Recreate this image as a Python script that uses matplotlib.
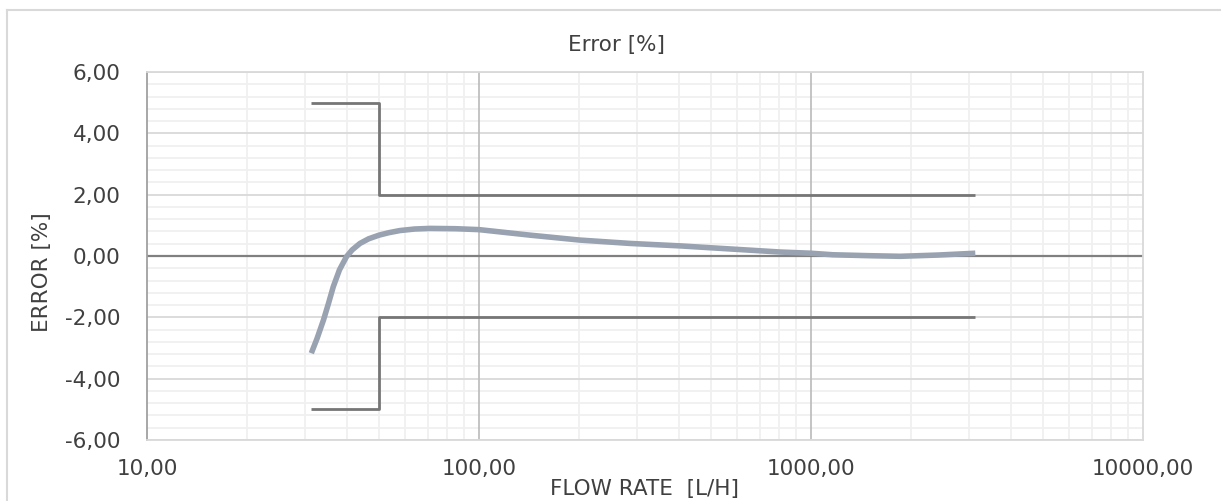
"""
Curva de erro do medidor vs. vazão (escala log), com limites de erro máximo admissível.
"""
import numpy as np
import matplotlib
matplotlib.use("Agg")
import matplotlib.pyplot as plt
from matplotlib.ticker import FixedLocator, FuncFormatter, NullFormatter
from matplotlib.lines import Line2D

flow_lh = [31.25, 32.5, 34.0, 35.2, 36.4, 38.0, 39.9, 41.5, 43.8, 46.5, 50.0,
           53.5, 57.8, 64.0, 71.2, 85.0, 100.0, 142.5, 201.0, 285.0, 403.0,
           570.0, 807.0, 1000.0, 1165.0, 1500.0, 1854.0, 2400.0, 3125.0]
error_pct = [-3.17, -2.70, -2.09, -1.55, -1.00, -0.45, -0.02, 0.20, 0.41, 0.56, 0.68,
             0.76, 0.83, 0.88, 0.90, 0.89, 0.86, 0.68, 0.52, 0.41, 0.33,
             0.23, 0.13, 0.09, 0.04, 0.01, -0.01, 0.03, 0.09]

# Limites de erro (Q1, Q2, Q4)
limit_x = [31.25, 50.0, 50.0, 3125.0]
upper_lim = [5.0, 5.0, 2.0, 2.0]
lower_lim = [-5.0, -5.0, -2.0, -2.0]

x_major = [10, 100, 1000, 10000]
y_major = [-6, -4, -2, 0, 2, 4, 6]

TXT = "#404040"
FS = 15.5

fig = plt.figure(figsize=(12.21, 5.01), dpi=100)
fig.patch.set_facecolor("white")
ax = fig.add_axes([147 / 1221, 1 - 440 / 501, (1143 - 147) / 1221, (440 - 72) / 501])

ax.set_xscale("log")
ax.set_xlim(10, 10000)
ax.set_ylim(-6, 6)

# grade
x_minor = [m * 10 ** d for d in range(1, 4) for m in range(2, 10)]
for xv in x_minor:
    ax.axvline(xv, color="#f0f0f0", lw=1.3, zorder=0)
for yv in np.arange(-6, 6.01, 0.4):
    if round(yv, 1) % 2 != 0:
        ax.axhline(yv, color="#f0f0f0", lw=1.3, zorder=0)
for yv in y_major:
    if yv != 0:
        ax.axhline(yv, color="#d9d9d9", lw=1.3, zorder=1)
for xv in [100, 1000]:
    ax.axvline(xv, color="#bfbfbf", lw=1.3, zorder=1)
ax.axhline(0, color="#808080", lw=1.6, zorder=2)

ax.plot(limit_x, upper_lim, color="#767676", lw=2.0, solid_capstyle="butt", zorder=3)
ax.plot(limit_x, lower_lim, color="#767676", lw=2.0, solid_capstyle="butt", zorder=3)
ax.plot(flow_lh, error_pct, color="#98a2b0", lw=4.0, solid_joinstyle="round",
        solid_capstyle="butt", zorder=4)

for s in ["top", "right", "bottom"]:
    ax.spines[s].set_color("#d9d9d9")
    ax.spines[s].set_linewidth(1.3)
ax.spines["left"].set_color("#a0a0a0")
ax.spines["left"].set_linewidth(1.3)

ax.xaxis.set_major_locator(FixedLocator(x_major))
ax.xaxis.set_minor_formatter(NullFormatter())
ax.xaxis.set_major_formatter(FuncFormatter(lambda v, p: f"{v:.2f}".replace(".", ",")))
ax.yaxis.set_major_locator(FixedLocator(y_major))
ax.yaxis.set_major_formatter(FuncFormatter(lambda v, p: f"{v:.2f}".replace(".", ",")))
ax.tick_params(axis="both", which="both", length=0, labelsize=FS, colors=TXT)
ax.tick_params(axis="x", pad=14)
ax.tick_params(axis="y", pad=19)

fig.text(617 / 1221, 1 - 45 / 501, "Error [%]", ha="center", va="center", fontsize=FS, color=TXT)
fig.text(645 / 1221, 1 - 489 / 501, "FLOW RATE  [L/H]", ha="center", va="center", fontsize=FS, color=TXT)
fig.text(42 / 1221, 1 - 272 / 501, "ERROR [%]", ha="center", va="center", rotation=90,
         fontsize=FS, color=TXT)

# borda da área do gráfico
fig.add_artist(Line2D([7 / 1221, 1.0], [1 - 10 / 501, 1 - 10 / 501], transform=fig.transFigure,
                      color="#d9d9d9", lw=1.5))
fig.add_artist(Line2D([7 / 1221, 7 / 1221], [0.0, 1 - 10 / 501], transform=fig.transFigure,
                      color="#d9d9d9", lw=1.5))

fig.savefig("out.png", dpi=100)
